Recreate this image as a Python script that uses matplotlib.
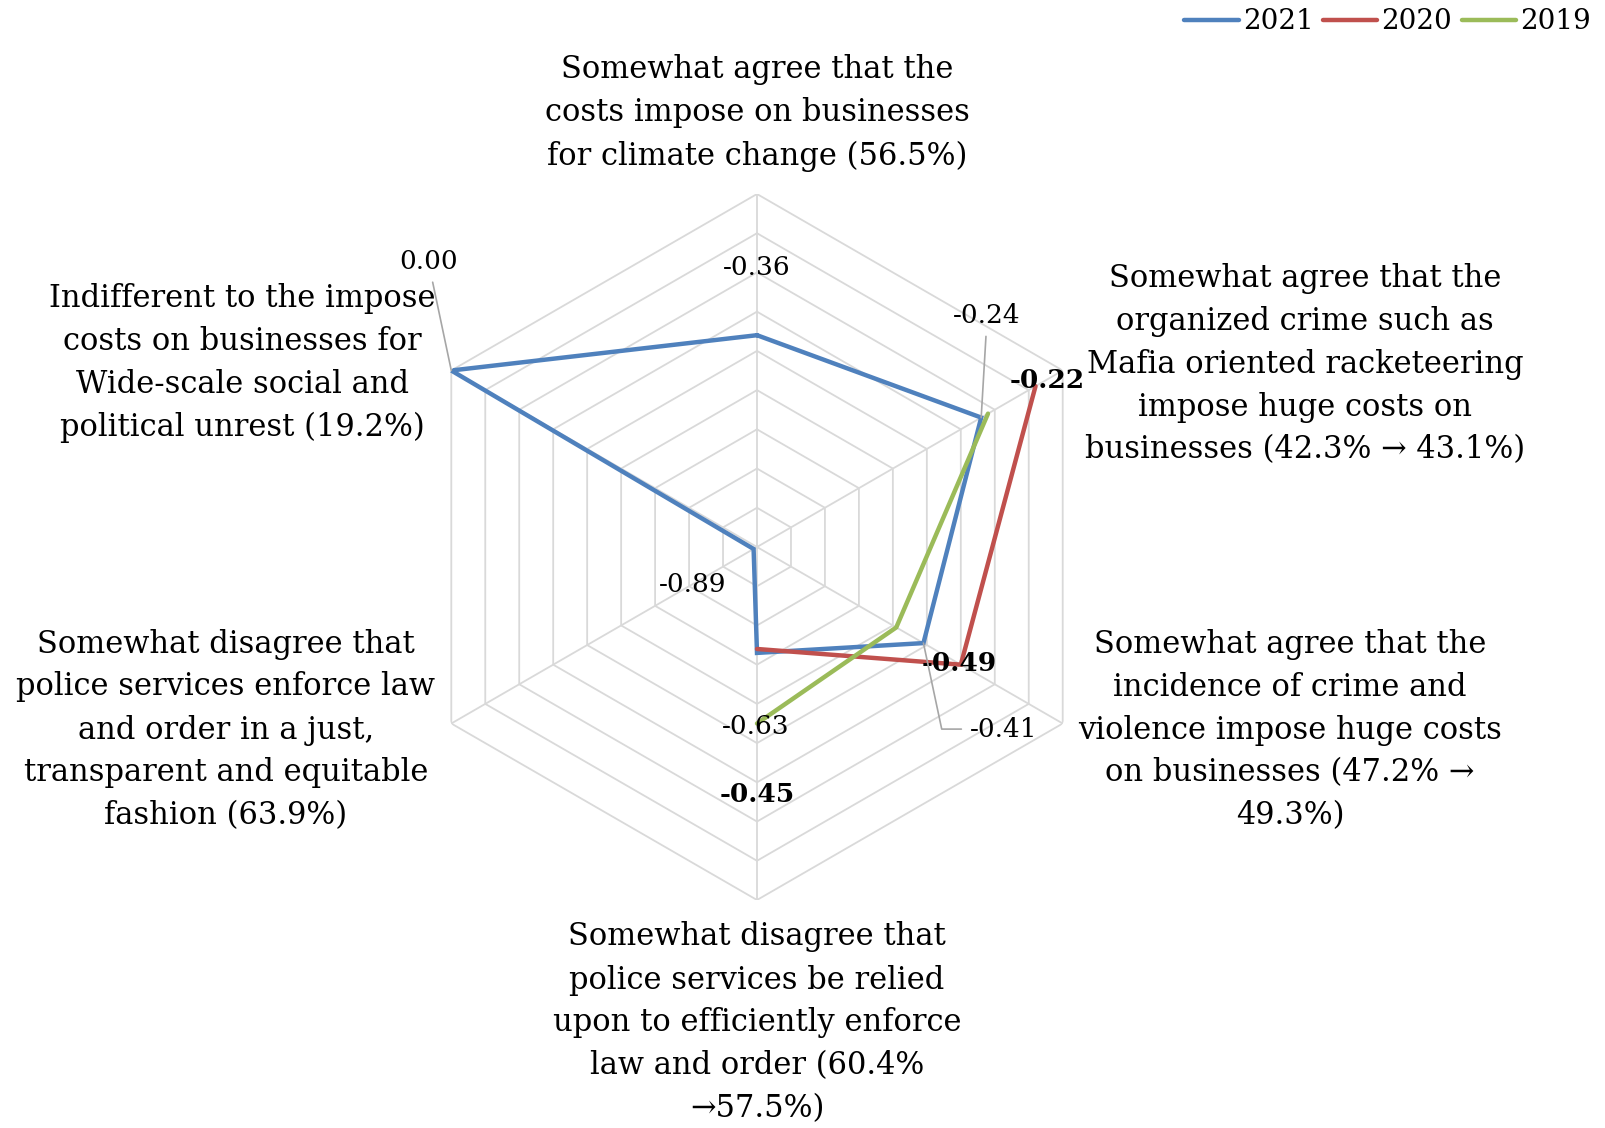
import numpy as np
import matplotlib.pyplot as plt

categories = [
    "Somewhat agree that the\ncosts impose on businesses\nfor climate change (56.5%)",
    "Somewhat agree that the\norganized crime such as\nMafia oriented racketeering\nimpose huge costs on\nbusinesses (42.3% \u2192 43.1%)",
    "Somewhat agree that the\nincidence of crime and\nviolence impose huge costs\non businesses (47.2% \u2192\n49.3%)",
    "Somewhat disagree that\npolice services be relied\nupon to efficiently enforce\nlaw and order (60.4%\n\u219257.5%)",
    "Somewhat disagree that\npolice services enforce law\nand order in a just,\ntransparent and equitable\nfashion (63.9%)",
    "Indifferent to the impose\ncosts on businesses for\nWide-scale social and\npolitical unrest (19.2%)",
]
years = ["2021", "2020", "2019"]
vals_2021 = [-0.36, -0.24, -0.41, -0.63, -0.89, 0.00]
vals_2020 = [np.nan, -0.08, -0.30, -0.64, np.nan, np.nan]
vals_2019 = [np.nan, -0.22, -0.49, -0.45, np.nan, np.nan]
colors = ["#4f81bd", "#c0504d", "#9bbb59"]

r_min, r_max = -0.9, 0.0
n = len(categories)
theta = np.arange(n) * 2 * np.pi / n
theta_closed = np.append(theta, theta[0])

plt.rcParams["font.family"] = ["DejaVu Serif"]

fig = plt.figure(figsize=(16.05, 11.28), dpi=100)
W, H = 1605, 1128
cx, cy, R = 757, 547, 353
ax = fig.add_axes([(cx - R) / W, (H - cy - R) / H, 2 * R / W, 2 * R / H],
                  projection="polar")
ax.set_theta_zero_location("N")
ax.set_theta_direction(-1)
ax.set_ylim(r_min, r_max)
ax.grid(False)
ax.spines["polar"].set_visible(False)
ax.set_xticks([])
ax.set_yticks([])
ax.patch.set_visible(False)

# hexagonal grid
grid_col = "#d9d9d9"
for r in np.arange(-0.8, 0.001, 0.1):
    ax.plot(theta_closed, [r] * (n + 1), color=grid_col, lw=1.3, zorder=1)
for t in theta:
    ax.plot([t, t], [r_min, r_max], color=grid_col, lw=1.3, zorder=1)

for vals, col, lab in zip([vals_2021, vals_2020, vals_2019], colors, years):
    v = np.append(vals, vals[0])
    ax.plot(theta_closed, v, color=col, lw=3.2, label=lab, zorder=3,
            solid_joinstyle="miter", solid_capstyle="round")

# data labels: (series values, index, offset px, bold, leader)
labels = [
    (vals_2021, 0, (0, 68), False, None),
    (vals_2021, 1, (6, 102), False, "arc3"),
    (vals_2019, 1, (59, 33), True, None),
    (vals_2021, 5, (-23, 109), False, "arc3"),
    (vals_2021, 4, (-61, -36), False, None),
    (vals_2019, 2, (63, -36), True, None),
    (vals_2021, 2, (80, -86), False, "angle,angleA=0,angleB=-78,rad=0"),
    (vals_2021, 3, (-1, -74), False, None),
    (vals_2019, 3, (0, -71), True, None),
]
for vals, i, off, bold, leader in labels:
    kw = {}
    if leader:
        kw["arrowprops"] = dict(arrowstyle="-", color="#a6a6a6", lw=1.2,
                                connectionstyle=leader, shrinkA=4, shrinkB=0)
    ax.annotate(f"{vals[i]:.2f}", xy=(theta[i], vals[i]), xytext=off,
                textcoords="offset pixels", ha="center", va="center",
                fontsize=19, fontweight="bold" if bold else "normal",
                zorder=5, **kw)

# category labels
cat_pos = [(757, 113), (1305, 364), (1290, 730), (757, 1023), (226, 730), (242, 363)]
for text, (x, y) in zip(categories, cat_pos):
    fig.text(x / W, 1 - y / H, text, ha="center", va="center",
             fontsize=22, linespacing=1.5)

fig.legend(loc="upper right", bbox_to_anchor=(1.0, 1.005), ncol=3, frameon=False,
           fontsize=20, handlelength=1.95, handletextpad=0.15, columnspacing=0.35,
           borderaxespad=0.1)

fig.savefig("out.png", dpi=100)
